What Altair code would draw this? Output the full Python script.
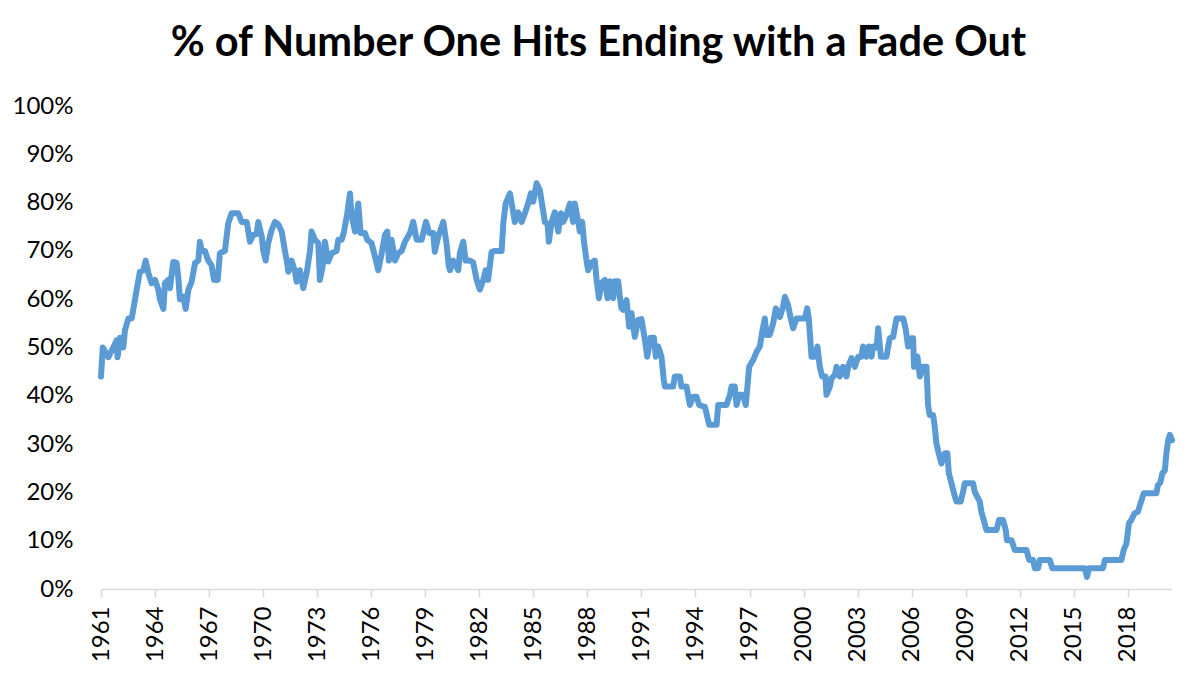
import altair as alt
import pandas as pd

years = [
    1961.00, 1961.10, 1961.41, 1961.68, 1961.87, 1961.92, 1962.05, 1962.24, 1962.33, 1962.52,
    1962.70, 1962.79, 1962.98, 1963.16, 1963.35, 1963.48, 1963.63, 1963.81, 1964.00, 1964.18,
    1964.27, 1964.46, 1964.55, 1964.73, 1964.83, 1965.01, 1965.20, 1965.29, 1965.38, 1965.57,
    1965.70, 1965.85, 1966.03, 1966.22, 1966.40, 1966.49, 1966.59, 1966.77, 1966.95, 1967.14,
    1967.27, 1967.48, 1967.60, 1967.88, 1968.06, 1968.25, 1968.62, 1968.81, 1969.09, 1969.27,
    1969.45, 1969.64, 1969.73, 1969.92, 1970.01, 1970.14, 1970.28, 1970.47, 1970.66,
    1970.84, 1971.03, 1971.21, 1971.31, 1971.40, 1971.58, 1971.77, 1971.86, 1972.04, 1972.23,
    1972.42, 1972.60, 1972.69, 1972.88, 1973.06, 1973.15, 1973.30, 1973.43, 1973.61, 1973.80,
    1974.08, 1974.17, 1974.36, 1974.49, 1974.67, 1974.82, 1974.91, 1975.10, 1975.28, 1975.41,
    1975.65, 1975.78, 1976.02, 1976.21, 1976.39, 1976.58, 1976.76, 1976.89, 1976.98, 1977.13,
    1977.32, 1977.50, 1977.69, 1977.87, 1978.15, 1978.33, 1978.52, 1978.80, 1979.04, 1979.22,
    1979.44, 1979.53, 1979.72, 1980.00,
    1980.18, 1980.30, 1980.37, 1980.55, 1980.83, 1980.92, 1981.11, 1981.24, 1981.48, 1981.66,
    1981.85, 1982.03, 1982.22, 1982.35, 1982.49, 1982.68, 1982.86, 1983.24, 1983.33, 1983.46,
    1983.70, 1983.88, 1983.97, 1984.16, 1984.35, 1984.53, 1984.71, 1984.86, 1984.99, 1985.18,
    1985.36, 1985.46, 1985.64, 1985.79, 1985.86, 1986.01, 1986.19, 1986.38, 1986.53, 1986.66,
    1986.84, 1987.03, 1987.21, 1987.30, 1987.49, 1987.58, 1987.71, 1987.82, 1987.95, 1988.04,
    1988.23, 1988.41, 1988.51, 1988.64, 1988.79, 1988.97, 1989.12, 1989.25, 1989.43, 1989.52,
    1989.71, 1989.80, 1989.89,
    1989.98, 1990.17, 1990.32, 1990.45, 1990.63, 1990.82, 1991.00, 1991.19, 1991.32, 1991.50,
    1991.69, 1991.80, 1991.93, 1992.11, 1992.24, 1992.30, 1992.76, 1992.85, 1993.13, 1993.22,
    1993.50, 1993.69, 1993.87, 1994.06, 1994.20, 1994.52, 1994.65, 1994.76, 1995.17, 1995.26,
    1995.72, 1995.91, 1996.00, 1996.18, 1996.28, 1996.42, 1996.64, 1996.79, 1996.98, 1997.20,
    1997.39, 1997.57, 1997.72, 1997.85, 1997.94, 1998.12, 1998.31, 1998.46, 1998.68, 1998.86,
    1998.96, 1999.14, 1999.27, 1999.42,
    1999.61, 1999.70, 2000.07, 2000.20, 2000.29, 2000.44, 2000.62, 2000.77, 2000.90, 2001.03,
    2001.21, 2001.27, 2001.46, 2001.55, 2001.73, 2001.83, 2002.01, 2002.19, 2002.38, 2002.47,
    2002.66, 2002.84, 2003.03, 2003.21, 2003.30, 2003.49, 2003.62, 2003.77, 2003.86, 2004.05,
    2004.14, 2004.29, 2004.60, 2004.78, 2004.97, 2005.16, 2005.53, 2005.66, 2005.80, 2005.99,
    2006.08, 2006.13, 2006.32, 2006.45, 2006.63, 2006.82, 2006.91, 2007.00, 2007.19, 2007.28,
    2007.37, 2007.50, 2007.65, 2007.84, 2007.98, 2008.06, 2008.21, 2008.35, 2008.49, 2008.72,
    2008.85, 2008.95, 2009.41,
    2009.50, 2009.78, 2009.87, 2010.15, 2010.71, 2010.85, 2011.07, 2011.22, 2011.29, 2011.54,
    2011.72, 2012.37, 2012.52, 2012.74, 2012.83, 2013.02, 2013.11, 2013.66, 2013.81, 2015.61,
    2015.73, 2015.84, 2016.62, 2016.72, 2017.64, 2017.77, 2017.92, 2018.06, 2018.19, 2018.38,
    2018.56, 2018.70, 2018.88, 2019.58, 2019.67, 2019.80, 2019.92, 2020.05, 2020.14, 2020.24,
    2020.33, 2020.45,
]

fade_pct = [
    44, 50, 48, 50, 51.5, 48, 52, 50, 53.6, 56,
    56, 57.8, 62, 65.7, 66, 68, 65.4, 63.3, 64, 62,
    60, 58, 63.3, 64, 62.3, 67.7, 67.5, 64.6, 60, 60.5,
    58, 62, 63.6, 67.5, 68, 71.9, 70, 70, 68, 67,
    64, 64, 69.5, 70, 75.7, 77.8, 77.8, 76, 76, 71.9,
    73.3, 73.5, 76, 73, 70, 68, 71.6, 74.3, 76,
    75.5, 74, 70, 68, 65.7, 68, 65.7, 63.6, 66, 62.3,
    65.5, 70, 74, 72.3, 71.6, 64, 66.7, 71.9, 67.8, 69.5,
    70, 72.3, 72.3, 74, 77.8, 81.9, 77.4, 74, 79.8, 73.7,
    73.7, 72.3, 71.6, 68.8, 66, 69.5, 73.3, 74, 68, 72.3,
    68, 69.5, 70, 71.9, 73.7, 76, 72.3, 72.3, 76, 73.7,
    73.7, 69.8, 73, 76,
    71.5, 67, 66, 68, 66, 69.5, 71.9, 68, 68, 67.6,
    64, 62, 64, 66, 64, 69.8, 70, 70, 75.7, 79.8,
    81.9, 78, 76, 78, 76, 77.8, 79.8, 81.9, 80.2, 84,
    82.6, 80.2, 76, 75.5, 71.9, 76, 78, 74, 77.8, 76,
    77.5, 79.8, 76, 79.8, 76, 74, 76, 71.6, 68, 66,
    67.6, 68, 64, 60.2, 63.4, 64, 60.2, 63.7, 60.2, 63.7,
    63.7, 60.5, 58.1,
    57.8, 59.8, 54.3, 57.1, 52.2, 55.7, 55.9, 51.6, 48.1, 52,
    52, 48.1, 50.2, 48.1, 43.3, 41.9, 41.9, 44, 44, 41.9,
    41.9, 38.1, 39.8, 39.8, 38.1, 37.7, 35.7, 34, 34, 38.1,
    38.1, 40.2, 41.9, 41.9, 38.1, 40.2, 40.2, 38.1, 46, 47.4,
    49.1, 50.2, 53.6, 56, 52.6, 52.6, 55, 58.1, 56.3, 58.4,
    60.5, 58.8, 56.3, 54,
    56, 56, 56, 58.1, 56, 48.1, 48.1, 50.2, 46, 44,
    44, 40.2, 41.9, 43.6, 44.3, 46, 44, 46, 44, 46,
    47.8, 46, 48.1, 48.1, 50.2, 48.1, 50.2, 48.1, 50.2, 50,
    54, 48.1, 48.1, 51.9, 52.2, 56, 56, 54, 50.2, 51.9,
    51.9, 46, 48.1, 44, 46, 46, 38.1, 36, 36, 33.6,
    30.2, 28.1, 26, 28.1, 28.1, 24, 21.9, 19.8, 18.1, 18.1,
    20.1, 21.9, 21.9,
    20.1, 18.1, 16, 12.2, 12.2, 14.3, 14.3, 12.2, 10.1, 10.1,
    8.1, 8.1, 6, 6, 4.3, 4.3, 6, 6, 4.3, 4.3,
    2.5, 4.3, 4.3, 6, 6, 8.1, 9.4, 13.6, 14.3, 15.7,
    16, 17.7, 19.8, 19.8, 21.5, 22, 24, 24.5, 28.1, 30.8,
    31.9, 30.8,
]

tick_years = list(range(1961, 2019, 3))
y_ticks = [i / 10 for i in range(11)]

df = pd.DataFrame({
    "order": list(range(len(years))),
    "year": years,
    "share": [v / 100 for v in fade_pct],
})

FONT = "Lato"

chart = (
    alt.Chart(df)
    .mark_line(color="#5B9BD5", strokeWidth=6, strokeJoin="round", strokeCap="round")
    .encode(
        x=alt.X(
            "year:Q",
            scale=alt.Scale(domain=[1961, 2020.45], nice=False, zero=False),
            axis=alt.Axis(
                values=tick_years,
                format="d",
                title=None,
                labelAngle=-90,
                labelFontSize=24,
                labelFont=FONT,
                labelColor="#000000",
                labelPadding=9,
                tickSize=8,
                tickColor="#D9D9D9",
                tickWidth=1.5,
                domainColor="#D9D9D9",
                domainWidth=1.5,
                grid=False,
                labelOverlap=False,
            ),
        ),
        y=alt.Y(
            "share:Q",
            scale=alt.Scale(domain=[0, 1], nice=False),
            axis=alt.Axis(
                values=y_ticks,
                format=".0%",
                title=None,
                labelFontSize=24,
                labelFont=FONT,
                labelColor="#000000",
                labelPadding=28,
                ticks=False,
                domain=False,
                grid=False,
            ),
        ),
        order="order:Q",
    )
    .properties(
        width=1071,
        height=483,
        background="white",
        autosize=alt.AutoSizeParams(type="none"),
        padding={"left": 93, "top": 98, "right": 20, "bottom": 86},
        title=alt.TitleParams(
            text="% of Number One Hits Ending with a Fade Out",
            fontSize=41.5,
            font=FONT,
            fontWeight="bold",
            color="#000000",
            anchor="middle",
            dx=-38,
            offset=30,
        ),
    )
    .configure_view(stroke="transparent", strokeWidth=0)
)

chart.save("out.html", embed_options={"renderer": "svg", "actions": False})
